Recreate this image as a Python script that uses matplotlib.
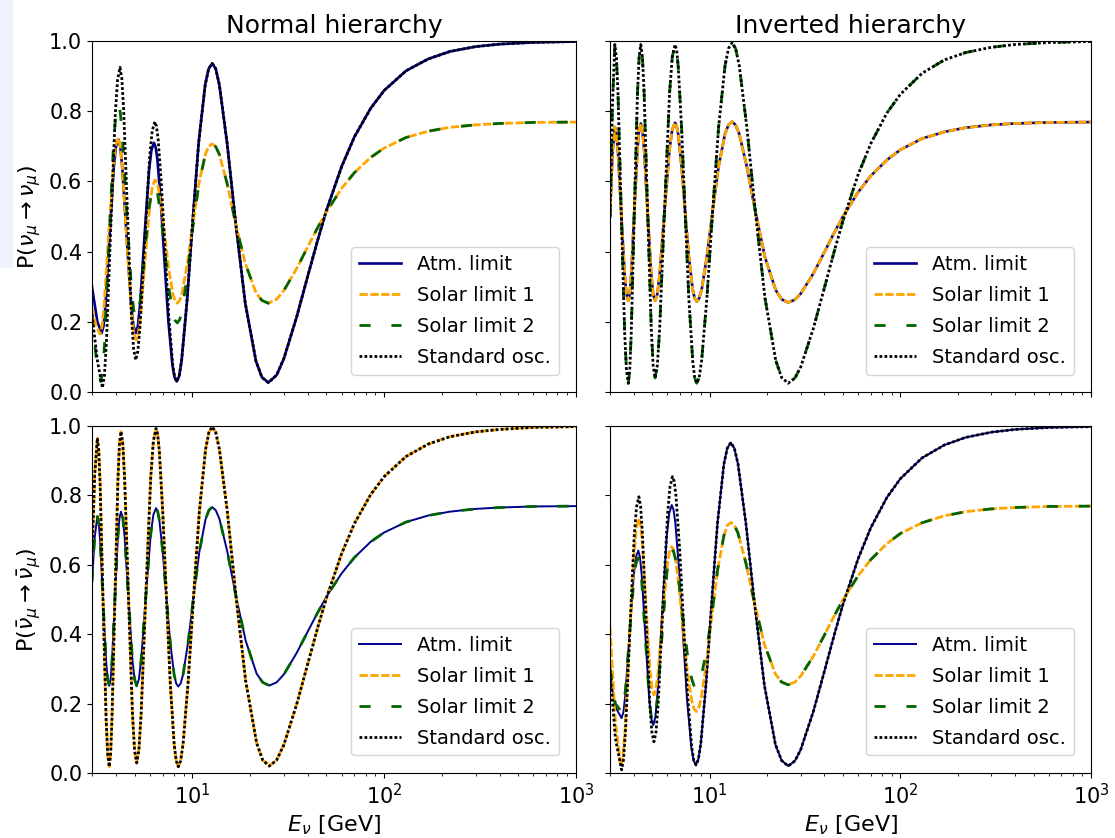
import matplotlib
matplotlib.use("Agg")
import matplotlib.pyplot as plt
from matplotlib.patches import Rectangle

# ---------------------------------------------------------------------------
# Muon-(anti)neutrino survival probabilities vs. neutrino energy [GeV]
# ---------------------------------------------------------------------------

# Normal hierarchy, neutrinos
E_nh_nu_atm_low = [3.0, 3.2, 3.37, 3.448, 3.529, 3.704, 3.896, 4.000, 4.11, 4.211, 4.316, 4.543,
                   4.796, 4.933, 5.08, 5.206, 5.339, 5.627, 5.949, 6.124, 6.31, 6.437, 6.571,
                   6.855, 7.166, 7.506, 7.879, 8.080]
P_nh_nu_atm_low = [0.30, 0.20, 0.168, 0.189, 0.249, 0.444, 0.639, 0.699, 0.72, 0.699, 0.639,
                   0.444, 0.249, 0.189, 0.168, 0.189, 0.247, 0.439, 0.631, 0.689, 0.71, 0.698,
                   0.664, 0.540, 0.370, 0.200, 0.076, 0.042]
E_nh_nu_std_low = [3.0, 3.2, 3.40, 3.483, 3.570, 3.758, 3.967, 4.080, 4.20, 4.292, 4.388, 4.594,
                   4.821, 4.943, 5.07, 5.205, 5.345, 5.650, 5.995, 6.180, 6.38, 6.507, 6.637,
                   6.912, 7.212, 7.540, 7.898, 8.090]
P_nh_nu_std_low = [0.22, 0.09, 0.012, 0.047, 0.145, 0.469, 0.792, 0.890, 0.925, 0.893, 0.803,
                   0.508, 0.213, 0.123, 0.091, 0.117, 0.190, 0.431, 0.671, 0.744, 0.77, 0.757,
                   0.720, 0.585, 0.400, 0.215, 0.080, 0.043]
E_nh_nu_full_tail = [8.29, 8.539, 8.801, 9.378, 10.035, 10.791, 11.671, 12.167, 12.7, 13.247,
                     13.835, 15.186, 16.826, 18.868, 21.468, 23.057, 24.9, 27.5, 30, 35, 40, 45,
                     50, 60, 70, 85, 100, 130, 170, 220, 300, 400, 600, 1000]
P_nh_nu_full_tail = [0.03, 0.045, 0.091, 0.257, 0.483, 0.710, 0.875, 0.921, 0.936, 0.921, 0.875,
                     0.709, 0.482, 0.254, 0.088, 0.042, 0.027, 0.048, 0.095, 0.214, 0.331,
                     0.432, 0.517, 0.642, 0.727, 0.808, 0.859, 0.915, 0.949, 0.970, 0.984,
                     0.991, 0.996, 0.9985]
E_nh_nu_sol1_low = [3.0, 3.15, 3.30, 3.384, 3.471, 3.660, 3.873, 3.987, 4.11, 4.212, 4.320,
                    4.552, 4.810, 4.950, 5.10, 5.233, 5.371, 5.675, 6.013, 6.200, 6.40, 6.523,
                    6.657, 6.938, 7.244, 7.578, 7.944, 8.141, 8.35, 8.593, 8.853, 9.425, 10.076,
                    10.823, 11.689, 12.176]
P_nh_nu_sol1_low = [0.24, 0.19, 0.165, 0.186, 0.247, 0.445, 0.642, 0.703, 0.724, 0.702, 0.640,
                    0.436, 0.232, 0.170, 0.148, 0.165, 0.215, 0.376, 0.537, 0.587, 0.604, 0.598,
                    0.580, 0.516, 0.429, 0.341, 0.277, 0.259, 0.253, 0.261, 0.283, 0.367, 0.480,
                    0.594, 0.677, 0.699]
E_nh_nu_sol2_low = [3.0, 3.15, 3.33, 3.411, 3.496, 3.679, 3.882, 3.994, 4.11, 4.212, 4.320,
                    4.552, 4.810, 4.950, 5.10, 5.227, 5.363, 5.656, 5.983, 6.162, 6.35, 6.478,
                    6.613, 6.900, 7.212, 7.555, 7.931, 8.134, 8.35, 8.593, 8.853, 9.425, 10.076,
                    10.823, 11.689, 12.176]
P_nh_nu_sol2_low = [0.22, 0.10, 0.03, 0.060, 0.145, 0.425, 0.705, 0.790, 0.82, 0.797, 0.731,
                    0.515, 0.299, 0.233, 0.21, 0.224, 0.265, 0.399, 0.532, 0.573, 0.587, 0.580,
                    0.561, 0.490, 0.392, 0.295, 0.223, 0.204, 0.197, 0.206, 0.232, 0.335, 0.472,
                    0.592, 0.677, 0.699]
E_nh_nu_red_tail = [12.7, 13.247, 13.835, 15.186, 16.826, 18.868, 21.468, 23.057, 24.9, 27.5,
                    30, 35, 40, 45, 50, 60, 70, 85, 100, 130, 170, 220, 300, 400, 600, 1000]
P_nh_nu_red_tail = [0.707, 0.699, 0.677, 0.594, 0.480, 0.367, 0.283, 0.261, 0.253, 0.264, 0.289,
                    0.352, 0.414, 0.468, 0.513, 0.580, 0.625, 0.668, 0.695, 0.725, 0.743, 0.754,
                    0.761, 0.765, 0.768, 0.769]

# Inverted hierarchy, neutrinos
E_ih_nu = [3.0, 3.09, 3.18, 3.240, 3.304, 3.437, 3.582, 3.659, 3.74, 3.807, 3.876, 4.021, 4.179,
           4.263, 4.35, 4.438, 4.529, 4.724, 4.938, 5.051, 5.17, 5.313, 5.462, 5.790, 6.158,
           6.361, 6.58, 6.708, 6.841, 7.126, 7.435, 7.772, 8.141, 8.339, 8.55, 8.802, 9.073,
           9.668, 10.347, 11.127, 12.036, 12.549, 13.1, 13.665, 14.29, 15.67, 17.38, 19.49,
           22.20, 23.850, 25.8, 28, 30, 35, 40, 45, 50, 60, 70, 85, 100, 130, 170, 220, 300,
           400, 600, 1000]
P_ih_nu_full = [0.5, 0.82, 0.99, 0.953, 0.849, 0.507, 0.166, 0.062, 0.025, 0.062, 0.166, 0.507,
                0.849, 0.953, 0.99, 0.954, 0.851, 0.515, 0.179, 0.076, 0.04, 0.076, 0.179,
                0.515, 0.851, 0.954, 0.99, 0.974, 0.925, 0.749, 0.508, 0.266, 0.090, 0.041,
                0.025, 0.041, 0.090, 0.268, 0.510, 0.753, 0.930, 0.979, 0.995, 0.979, 0.930,
                0.753, 0.510, 0.268, 0.090, 0.041, 0.025, 0.040, 0.071, 0.182, 0.298, 0.401,
                0.488, 0.619, 0.708, 0.795, 0.848, 0.908, 0.946, 0.967, 0.982, 0.990, 0.9956,
                0.9984]
P_ih_nu_red = [0.5, 0.68, 0.755, 0.736, 0.683, 0.508, 0.332, 0.279, 0.26, 0.279, 0.334, 0.513,
               0.691, 0.746, 0.765, 0.746, 0.691, 0.513, 0.334, 0.279, 0.26, 0.279, 0.334,
               0.514, 0.693, 0.748, 0.767, 0.758, 0.733, 0.640, 0.513, 0.385, 0.292, 0.267,
               0.258, 0.267, 0.292, 0.386, 0.514, 0.642, 0.736, 0.761, 0.77, 0.761, 0.735,
               0.641, 0.513, 0.384, 0.290, 0.264, 0.255, 0.263, 0.280, 0.338, 0.399, 0.454,
               0.500, 0.569, 0.616, 0.661, 0.690, 0.722, 0.741, 0.753, 0.761, 0.765, 0.768,
               0.769]

# Normal hierarchy, antineutrinos
E_nh_anu = [3.0, 3.1, 3.2, 3.254, 3.310, 3.427, 3.554, 3.621, 3.69, 3.752, 3.815, 3.950, 4.095,
            4.170, 4.25, 4.342, 4.441, 4.649, 4.878, 5.002, 5.13, 5.266, 5.411, 5.722, 6.072,
            6.266, 6.47, 6.597, 6.732, 7.018, 7.329, 7.669, 8.042, 8.242, 8.45, 8.696, 8.953,
            9.515, 10.152, 10.881, 11.723, 12.195, 12.7, 13.254, 13.85, 15.22, 16.89, 18.98,
            21.65, 23.283, 25.2, 27.5, 30, 35, 40, 45, 50, 60, 70, 85, 100, 130, 170, 220, 300,
            400, 600, 1000]
P_nh_anu_full = [0.62, 0.86, 0.965, 0.929, 0.827, 0.492, 0.156, 0.054, 0.018, 0.055, 0.159,
                 0.501, 0.843, 0.947, 0.984, 0.948, 0.845, 0.507, 0.168, 0.065, 0.029, 0.066,
                 0.170, 0.511, 0.852, 0.956, 0.993, 0.976, 0.928, 0.749, 0.506, 0.262, 0.083,
                 0.035, 0.018, 0.035, 0.084, 0.263, 0.508, 0.753, 0.932, 0.981, 0.998, 0.981,
                 0.932, 0.754, 0.509, 0.265, 0.086, 0.037, 0.02, 0.037, 0.081, 0.198, 0.315,
                 0.418, 0.504, 0.632, 0.719, 0.802, 0.854, 0.912, 0.948, 0.969, 0.983, 0.990,
                 0.996, 0.998]
P_nh_anu_red = [0.55, 0.68, 0.739, 0.720, 0.668, 0.495, 0.322, 0.270, 0.251, 0.270, 0.324,
                0.502, 0.680, 0.734, 0.753, 0.734, 0.680, 0.502, 0.324, 0.270, 0.251, 0.270,
                0.326, 0.507, 0.688, 0.744, 0.763, 0.754, 0.729, 0.635, 0.506, 0.378, 0.283,
                0.258, 0.249, 0.258, 0.284, 0.378, 0.508, 0.637, 0.731, 0.757, 0.766, 0.757,
                0.732, 0.638, 0.509, 0.381, 0.286, 0.261, 0.252, 0.261, 0.284, 0.346, 0.408,
                0.462, 0.508, 0.575, 0.621, 0.666, 0.693, 0.723, 0.742, 0.753, 0.761, 0.765,
                0.768, 0.769]

# Inverted hierarchy, antineutrinos
E_ih_anu_atm_low = [3.0, 3.2, 3.45, 3.530, 3.614, 3.796, 3.997, 4.105, 4.22, 4.308, 4.402,
                    4.602, 4.820, 4.938, 5.06, 5.190, 5.325, 5.621, 5.949, 6.131, 6.32, 6.457,
                    6.600, 6.905, 7.239, 7.606, 8.014, 8.235]
P_ih_anu_atm_low = [0.278, 0.19, 0.158, 0.176, 0.229, 0.400, 0.570, 0.623, 0.641, 0.622, 0.568,
                    0.390, 0.211, 0.157, 0.138, 0.162, 0.231, 0.455, 0.679, 0.748, 0.772, 0.759,
                    0.722, 0.585, 0.398, 0.210, 0.073, 0.036]
E_ih_anu_std_low = [3.0, 3.2, 3.45, 3.532, 3.620, 3.808, 4.016, 4.130, 4.25, 4.340, 4.435,
                    4.636, 4.857, 4.975, 5.1, 5.230, 5.370, 5.669, 6.004, 6.188, 6.38, 6.515,
                    6.655, 6.953, 7.278, 7.635, 8.030, 8.243]
P_ih_anu_std_low = [0.30, 0.10, 0.009, 0.039, 0.124, 0.403, 0.681, 0.766, 0.796, 0.769, 0.693,
                    0.443, 0.193, 0.117, 0.09, 0.119, 0.202, 0.472, 0.742, 0.825, 0.854, 0.840,
                    0.798, 0.646, 0.439, 0.231, 0.079, 0.037]
E_ih_anu_full_tail = [8.47, 8.717, 8.982, 9.563, 10.225, 10.985, 11.867, 12.364, 12.9, 13.464,
                      14.077, 15.483, 17.203, 19.354, 22.114, 23.815, 25.8, 28, 30, 35, 40, 45,
                      50, 60, 70, 85, 100, 130, 170, 220, 300, 400, 600, 1000]
P_ih_anu_full_tail = [0.023, 0.039, 0.085, 0.255, 0.488, 0.720, 0.890, 0.936, 0.952, 0.936,
                      0.890, 0.719, 0.486, 0.253, 0.082, 0.036, 0.02, 0.035, 0.067, 0.178,
                      0.294, 0.398, 0.486, 0.617, 0.707, 0.794, 0.848, 0.908, 0.945, 0.967,
                      0.982, 0.990, 0.9955, 0.998]
E_ih_anu_sol1_low = [3.0, 3.2, 3.42, 3.505, 3.596, 3.790, 4.006, 4.125, 4.25, 4.340, 4.435,
                     4.636, 4.857, 4.975, 5.1, 5.225, 5.358, 5.644, 5.962, 6.138, 6.32, 6.459,
                     6.604, 6.912, 7.252, 7.626, 8.041, 8.266, 8.5, 8.752, 9.015, 9.594, 10.251,
                     11.005, 11.879, 12.370]
P_ih_anu_sol1_low = [0.42, 0.15, 0.018, 0.045, 0.123, 0.376, 0.629, 0.707, 0.734, 0.715, 0.660,
                     0.480, 0.299, 0.244, 0.225, 0.241, 0.287, 0.439, 0.590, 0.636, 0.652,
                     0.644, 0.620, 0.533, 0.415, 0.296, 0.209, 0.185, 0.177, 0.186, 0.214,
                     0.313, 0.450, 0.586, 0.685, 0.713]
E_ih_anu_sol2_low = [3.0, 3.2, 3.45, 3.530, 3.614, 3.796, 3.997, 4.105, 4.22, 4.308, 4.402,
                     4.602, 4.820, 4.938, 5.06, 5.190, 5.325, 5.621, 5.949, 6.131, 6.32, 6.459,
                     6.604, 6.912, 7.252, 7.626, 8.041, 8.266, 8.5, 8.752, 9.015, 9.594, 10.251,
                     11.005, 11.879, 12.370]
P_ih_anu_sol2_low = [0.30, 0.20, 0.175, 0.192, 0.240, 0.398, 0.555, 0.603, 0.62, 0.602, 0.551,
                     0.383, 0.214, 0.163, 0.145, 0.164, 0.218, 0.395, 0.572, 0.626, 0.645,
                     0.638, 0.618, 0.545, 0.445, 0.345, 0.272, 0.252, 0.245, 0.253, 0.276,
                     0.350, 0.455, 0.586, 0.685, 0.713]
E_ih_anu_red_tail = [12.9, 13.464, 14.077, 15.483, 17.203, 19.354, 22.114, 23.815, 25.8, 28, 30,
                     35, 40, 45, 50, 60, 70, 85, 100, 130, 170, 220, 300, 400, 600, 1000]
P_ih_anu_red_tail = [0.722, 0.714, 0.691, 0.605, 0.488, 0.371, 0.285, 0.262, 0.254, 0.262,
                     0.279, 0.337, 0.398, 0.453, 0.499, 0.568, 0.615, 0.661, 0.690, 0.721,
                     0.741, 0.753, 0.761, 0.765, 0.768, 0.769]

labels = ["Atm. limit", "Solar limit 1", "Solar limit 2", "Standard osc."]
titles = ["Normal hierarchy", "Inverted hierarchy"]
y_ticks = [0.0, 0.2, 0.4, 0.6, 0.8, 1.0]

# Assemble the four curves of each panel (atm, solar 1, solar 2, standard)
panels = {
    "nh_nu": [
        (E_nh_nu_atm_low + E_nh_nu_full_tail, P_nh_nu_atm_low + P_nh_nu_full_tail),
        (E_nh_nu_sol1_low + E_nh_nu_red_tail, P_nh_nu_sol1_low + P_nh_nu_red_tail),
        (E_nh_nu_sol2_low + E_nh_nu_red_tail, P_nh_nu_sol2_low + P_nh_nu_red_tail),
        (E_nh_nu_std_low + E_nh_nu_full_tail, P_nh_nu_std_low + P_nh_nu_full_tail),
    ],
    "ih_nu": [
        (E_ih_nu, P_ih_nu_red),
        (E_ih_nu, P_ih_nu_red),
        (E_ih_nu, P_ih_nu_full),
        (E_ih_nu, P_ih_nu_full),
    ],
    "nh_anu": [
        (E_nh_anu, P_nh_anu_red),
        (E_nh_anu, P_nh_anu_full),
        (E_nh_anu, P_nh_anu_red),
        (E_nh_anu, P_nh_anu_full),
    ],
    "ih_anu": [
        (E_ih_anu_atm_low + E_ih_anu_full_tail, P_ih_anu_atm_low + P_ih_anu_full_tail),
        (E_ih_anu_sol1_low + E_ih_anu_red_tail, P_ih_anu_sol1_low + P_ih_anu_red_tail),
        (E_ih_anu_sol2_low + E_ih_anu_red_tail, P_ih_anu_sol2_low + P_ih_anu_red_tail),
        (E_ih_anu_std_low + E_ih_anu_full_tail, P_ih_anu_std_low + P_ih_anu_full_tail),
    ],
}


def styles(atm_lw):
    return [
        dict(color="#00008b", lw=atm_lw, ls="-"),
        dict(color="#ffa500", lw=2.0, ls=(0, (3, 0.9))),
        dict(color="#006400", lw=2.0, ls=(0, (4, 7.5))),
        dict(color="black", lw=2.0, ls=(0, (1, 0.8))),
    ]


fig = plt.figure(figsize=(11.15, 8.38), dpi=100)
fig.patches.append(Rectangle((0, 0.68), 0.0117, 0.32, transform=fig.transFigure,
                             facecolor="#eef2fb", edgecolor="none", zorder=0))

ax_tl = fig.add_axes([0.0825, 0.5322, 0.4341, 0.4189])
ax_tr = fig.add_axes([0.5471, 0.5322, 0.4314, 0.4189])
ax_bl = fig.add_axes([0.0825, 0.0776, 0.4341, 0.4141])
ax_br = fig.add_axes([0.5471, 0.0776, 0.4314, 0.4141])

layout = [(ax_tl, "nh_nu", 1.9), (ax_tr, "ih_nu", 1.9),
          (ax_bl, "nh_anu", 1.4), (ax_br, "ih_anu", 1.4)]

for ax, key, atm_lw in layout:
    for (E, P), st, lab in zip(panels[key], styles(atm_lw), labels):
        ax.plot(E, P, label=lab, **st)
    ax.set_xscale("log")
    ax.set_xlim(3, 1000)
    ax.set_ylim(0, 1)
    ax.set_yticks(y_ticks)
    ax.tick_params(labelsize=15)
    ax.legend(loc="lower right", fontsize=14, handlelength=2.2,
              labelspacing=0.62, borderaxespad=0.9)

ax_tl.set_title(titles[0], fontsize=18)
ax_tr.set_title(titles[1], fontsize=18)
for ax in (ax_tl, ax_tr):
    ax.tick_params(labelbottom=False)
for ax in (ax_tr, ax_br):
    ax.tick_params(labelleft=False)
ax_tl.set_ylabel(r"P($\nu_\mu \rightarrow \nu_\mu$)", fontsize=16)
ax_bl.set_ylabel(r"P($\bar{\nu}_\mu \rightarrow \bar{\nu}_\mu$)", fontsize=16)
ax_bl.set_xlabel(r"$E_\nu$ [GeV]", fontsize=16)
ax_br.set_xlabel(r"$E_\nu$ [GeV]", fontsize=16)

fig.savefig("out.png", dpi=100)
